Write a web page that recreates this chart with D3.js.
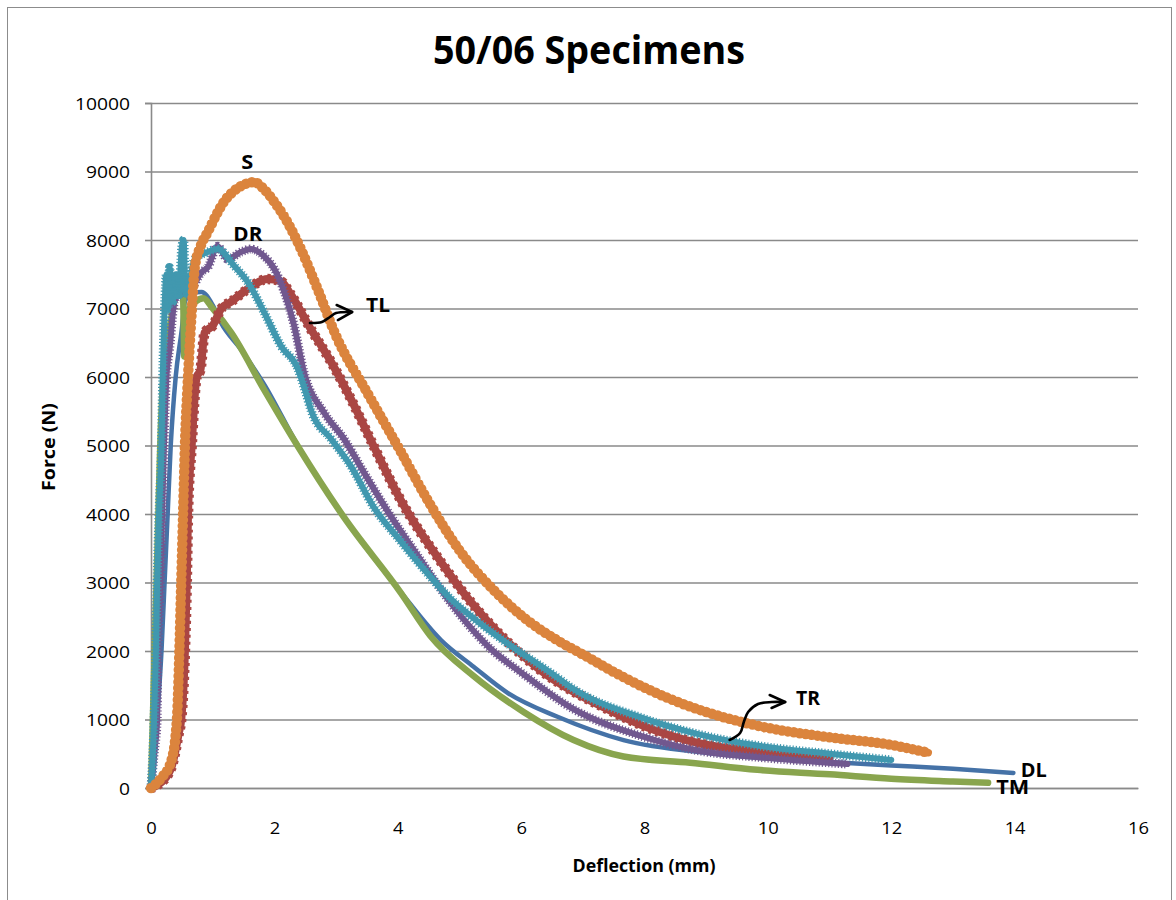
<!DOCTYPE html>
<html>
<head>
<meta charset="utf-8">
<script src="https://cdn.jsdelivr.net/npm/d3@7"></script>
<style>
  html, body { margin: 0; padding: 0; background: #fff; }
  svg { display: block; }
  text { font-family: "Open Sans", "DejaVu Sans", sans-serif; fill: #000; }
</style>
</head>
<body>
<svg id="chart" width="1176" height="900"></svg>
<script>
// ---- Data: deflection (mm) and force (N) for each specimen ----
const xTicks = [0, 2, 4, 6, 8, 10, 12, 14, 16];
const yTicks = [0, 1000, 2000, 3000, 4000, 5000, 6000, 7000, 8000, 9000, 10000];

const dlX = [0, 0.05, 0.1, 0.17, 0.22, 0.27, 0.32, 0.4, 0.5, 0.55, 0.65, 0.82, 1.0, 1.13, 1.46, 1.83, 2.38, 3.13, 4.05, 4.7, 5.23, 5.78, 6.59, 7.66, 9.02, 9.83, 11, 12, 13, 13.98];
const dlY = [0, 300, 1000, 2000, 3000, 4000, 5000, 6000, 6700, 7100, 7220, 7240, 7050, 6800, 6400, 5900, 5000, 3950, 2860, 2160, 1770, 1390, 1040, 700, 511, 440, 380, 330, 280, 220];

const tmX = [0, 0.03, 0.06, 0.09, 0.12, 0.15, 0.2, 0.3, 0.43, 0.48, 0.52, 0.54, 0.58, 0.62, 0.72, 0.85, 1.0, 1.3, 1.83, 2.38, 3.13, 4.05, 4.53, 5.23, 6.04, 6.85, 7.66, 8.74, 9.83, 11, 12, 13, 13.57];
const tmY = [0, 1000, 2000, 3000, 4000, 5000, 6000, 6700, 7300, 7420, 7200, 6300, 6500, 7000, 7100, 7150, 7000, 6650, 5820, 4990, 3950, 2850, 2220, 1635, 1110, 700, 460, 370, 265, 200, 135, 95, 75];

const tlX = [0, 0.1, 0.33, 0.45, 0.49, 0.55, 0.58, 0.6, 0.66, 0.74, 0.8, 0.87, 1.0, 1.14, 1.3, 1.57, 1.89, 2.1, 2.27, 2.59, 2.92, 3.24, 3.61, 4.05, 4.7, 5.2, 5.67, 6.3, 7.4, 8.0, 8.9, 9.83, 11.0];
const tlY = [0, 40, 300, 800, 1000, 2000, 3000, 4000, 5000, 6000, 6100, 6650, 6750, 7000, 7100, 7285, 7430, 7400, 7200, 6700, 6220, 5680, 4990, 4200, 3300, 2700, 2230, 1730, 1150, 900, 650, 530, 420];

const drX = [0, 0.05, 0.1, 0.11, 0.15, 0.18, 0.21, 0.25, 0.3, 0.38, 0.45, 0.65, 0.82, 0.92, 1.08, 1.24, 1.46, 1.62, 1.83, 2.0, 2.16, 2.32, 2.48, 2.81, 3.13, 3.45, 3.83, 4.37, 4.86, 5.51, 5.99, 6.85, 7.94, 8.9, 9.83, 11.29];
const drY = [0, 500, 1000, 2000, 3000, 4000, 5000, 6000, 6400, 7100, 7200, 7285, 7530, 7600, 7910, 7720, 7825, 7868, 7766, 7576, 7240, 6750, 6070, 5475, 5095, 4610, 4050, 3330, 2700, 2029, 1693, 1150, 760, 540, 450, 350];

const trX = [0, 0.03, 0.05, 0.08, 0.1, 0.13, 0.17, 0.19, 0.22, 0.25, 0.28, 0.3, 0.35, 0.4, 0.45, 0.5, 0.53, 0.56, 0.6, 0.71, 0.92, 1.08, 1.35, 1.57, 1.83, 2.11, 2.38, 2.5, 2.6, 2.92, 3.24, 3.61, 4.05, 4.37, 4.86, 5.34, 5.78, 6.53, 6.85, 7.94, 8.9, 9.83, 11, 12];
const trY = [0, 500, 1000, 2000, 3000, 4000, 5000, 6000, 7000, 7500, 7000, 7600, 7100, 7500, 7200, 7900, 8000, 7200, 7300, 7720, 7825, 7870, 7620, 7385, 6950, 6450, 6120, 5800, 5500, 5095, 4700, 4100, 3600, 3250, 2760, 2400, 2110, 1650, 1445, 1030, 780, 620, 500, 410];

const sX = [0, 0.17, 0.33, 0.42, 0.46, 0.49, 0.52, 0.55, 0.6, 0.66, 0.71, 0.8, 0.92, 1.18, 1.46, 1.67, 1.83, 2.0, 2.21, 2.43, 2.7, 3.0, 3.5, 4.0, 4.5, 5.0, 5.6, 6.1, 6.6, 7.0, 7.72, 8.47, 9.0, 9.83, 11, 12, 12.6];
const sY = [0, 150, 400, 1000, 2000, 3000, 4000, 5000, 6000, 6950, 7600, 7900, 8117, 8555, 8788, 8846, 8745, 8555, 8263, 7868, 7285, 6600, 5780, 4990, 4180, 3470, 2850, 2450, 2150, 1950, 1590, 1280, 1110, 910, 740, 630, 515];

// Series styles (drawn bottom to top)
const series = [
  { name: "DL", xs: dlX, ys: dlY, color: "#4572A7", width: 4.5, marker: null },
  { name: "TM", xs: tmX, ys: tmY, color: "#89A54E", width: 6.5, marker: null },
  { name: "TL", xs: tlX, ys: tlY, color: "#AA4643", width: 8, marker: { dash: "3 4", width: 10.5, cap: "butt" } },
  { name: "DR", xs: drX, ys: drY, color: "#71588F", width: 6, marker: { dash: "1.2 2", width: 9, cap: "butt" } },
  { name: "TR", xs: trX, ys: trY, color: "#4198AF", width: 6, marker: { dash: "1.2 2", width: 9, cap: "butt" } },
  { name: "S",  xs: sX,  ys: sY,  color: "#DB843D", width: 7.5, marker: { dash: "0 6", width: 10.5, cap: "round" } }
];

// Text annotations placed in data coordinates
const labels = [
  { text: "S",  x: 1.56,  y: 9139, len: 12 },
  { text: "DR", x: 1.57,  y: 8088, len: 29 },
  { text: "TL", x: 3.68,  y: 7051, len: 24 },
  { text: "TR", x: 10.65, y: 1314, len: 24 },
  { text: "DL", x: 14.31, y: 263,  len: 26 },
  { text: "TM", x: 13.97, y: 15,   len: 33 }
];
const tlArrowX = [2.577, 2.77, 2.90, 3.0, 3.26];
const tlArrowY = [6788, 6803, 6876, 6934, 6949];
const tlHeadX = [3.01, 3.26, 3.03];
const tlHeadY = [7051, 6949, 6832];
const trArrowX = [9.38, 9.55, 9.61, 9.68, 9.84, 10.06, 10.28];
const trArrowY = [701, 803, 964, 1109, 1226, 1255, 1255];
const trHeadX = [10.03, 10.28, 10.06];
const trHeadY = [1358, 1255, 1168];

// ---- Layout ----
const svg = d3.select("#chart");
const plot = { left: 151, right: 1138, top: 103, bottom: 788 };

const x = d3.scaleLinear().domain([0, 16]).range([plot.left, plot.right]);
const y = d3.scaleLinear().domain([0, 10000]).range([plot.bottom, plot.top]);

// Outer chart frame
svg.append("rect")
  .attr("x", 7.5).attr("y", 7.5).attr("width", 1164).attr("height", 900)
  .attr("fill", "none").attr("stroke", "#8c8c8c").attr("stroke-width", 1);

// Title
svg.append("text")
  .attr("x", 589).attr("y", 64)
  .attr("text-anchor", "middle")
  .attr("font-size", 40).attr("font-weight", 700)
  .attr("textLength", 312).attr("lengthAdjust", "spacingAndGlyphs")
  .text("50/06 Specimens");

// Horizontal gridlines
const grid = svg.append("g")
  .attr("transform", `translate(${plot.left},0)`)
  .call(d3.axisLeft(y).tickValues(yTicks).tickSize(-(plot.right - plot.left)).tickFormat(""));
grid.select(".domain").remove();
grid.selectAll(".tick line").attr("stroke", "#8a8a8a").attr("stroke-width", 1.6);

// Y axis with labels
const yAxis = svg.append("g")
  .attr("transform", `translate(${plot.left},0)`)
  .call(d3.axisLeft(y).tickValues(yTicks).tickSize(6).tickPadding(15).tickFormat(d3.format("d")));
yAxis.select(".domain").attr("stroke", "#8a8a8a").attr("stroke-width", 1.6);
yAxis.selectAll(".tick line").attr("stroke", "#8a8a8a").attr("stroke-width", 1.6);
yAxis.selectAll(".tick text")
  .attr("font-size", 17).attr("font-family", "'Open Sans', sans-serif").attr("fill", "#000")
  .attr("dy", "0.36em")
  .attr("textLength", d => String(d).length * 11)
  .attr("lengthAdjust", "spacingAndGlyphs");

// X axis with labels
const xAxis = svg.append("g")
  .attr("transform", `translate(0,${plot.bottom})`)
  .call(d3.axisBottom(x).tickValues(xTicks).tickSize(0).tickPadding(34).tickFormat(d3.format("d")));
xAxis.select(".domain").attr("stroke", "#8a8a8a").attr("stroke-width", 1.6);
xAxis.selectAll(".tick text")
  .attr("font-size", 17).attr("font-family", "'Open Sans', sans-serif").attr("fill", "#000")
  .attr("textLength", d => String(d).length * 10.5)
  .attr("lengthAdjust", "spacingAndGlyphs");

// Axis titles
svg.append("text")
  .attr("x", 644).attr("y", 872)
  .attr("text-anchor", "middle")
  .attr("font-size", 18).attr("font-weight", 700)
  .attr("textLength", 143).attr("lengthAdjust", "spacingAndGlyphs")
  .text("Deflection (mm)");

svg.append("text")
  .attr("transform", "translate(55,447) rotate(-90)")
  .attr("text-anchor", "middle")
  .attr("font-size", 18).attr("font-weight", 700)
  .attr("textLength", 88).attr("lengthAdjust", "spacingAndGlyphs")
  .text("Force (N)");

// Curves
const line = d3.line()
  .x(d => x(d[0]))
  .y(d => y(d[1]))
  .curve(d3.curveMonotoneX);

const lines = svg.append("g");
series.forEach(s => {
  const pts = s.xs.map((v, i) => [v, s.ys[i]]);
  const path = line(pts);
  lines.append("path")
    .attr("d", path)
    .attr("fill", "none")
    .attr("stroke", s.color)
    .attr("stroke-width", s.width)
    .attr("stroke-linejoin", "round")
    .attr("stroke-linecap", "round");
  if (s.marker) {
    lines.append("path")
      .attr("d", path)
      .attr("fill", "none")
      .attr("stroke", s.color)
      .attr("stroke-width", s.marker.width)
      .attr("stroke-dasharray", s.marker.dash)
      .attr("stroke-linecap", s.marker.cap);
  }
});

// Annotations
const ann = svg.append("g");
labels.forEach(l => {
  ann.append("text")
    .attr("x", x(l.x)).attr("y", y(l.y))
    .attr("dy", "0.36em")
    .attr("text-anchor", "middle")
    .attr("font-size", 20).attr("font-weight", 700)
    .attr("textLength", l.len).attr("lengthAdjust", "spacingAndGlyphs")
    .text(l.text);
});

const arrowLine = d3.line().x(d => x(d[0])).y(d => y(d[1])).curve(d3.curveCatmullRom);
const headLine = d3.line().x(d => x(d[0])).y(d => y(d[1]));
[[tlArrowX, tlArrowY, tlHeadX, tlHeadY], [trArrowX, trArrowY, trHeadX, trHeadY]].forEach(([ax, ay, hx, hy]) => {
  ann.append("path")
    .attr("d", arrowLine(ax.map((v, i) => [v, ay[i]])))
    .attr("fill", "none").attr("stroke", "#000").attr("stroke-width", 2.6)
    .attr("stroke-linecap", "round");
  ann.append("path")
    .attr("d", headLine(hx.map((v, i) => [v, hy[i]])))
    .attr("fill", "none").attr("stroke", "#000").attr("stroke-width", 2.6)
    .attr("stroke-linecap", "round").attr("stroke-linejoin", "round");
});
</script>
</body>
</html>
